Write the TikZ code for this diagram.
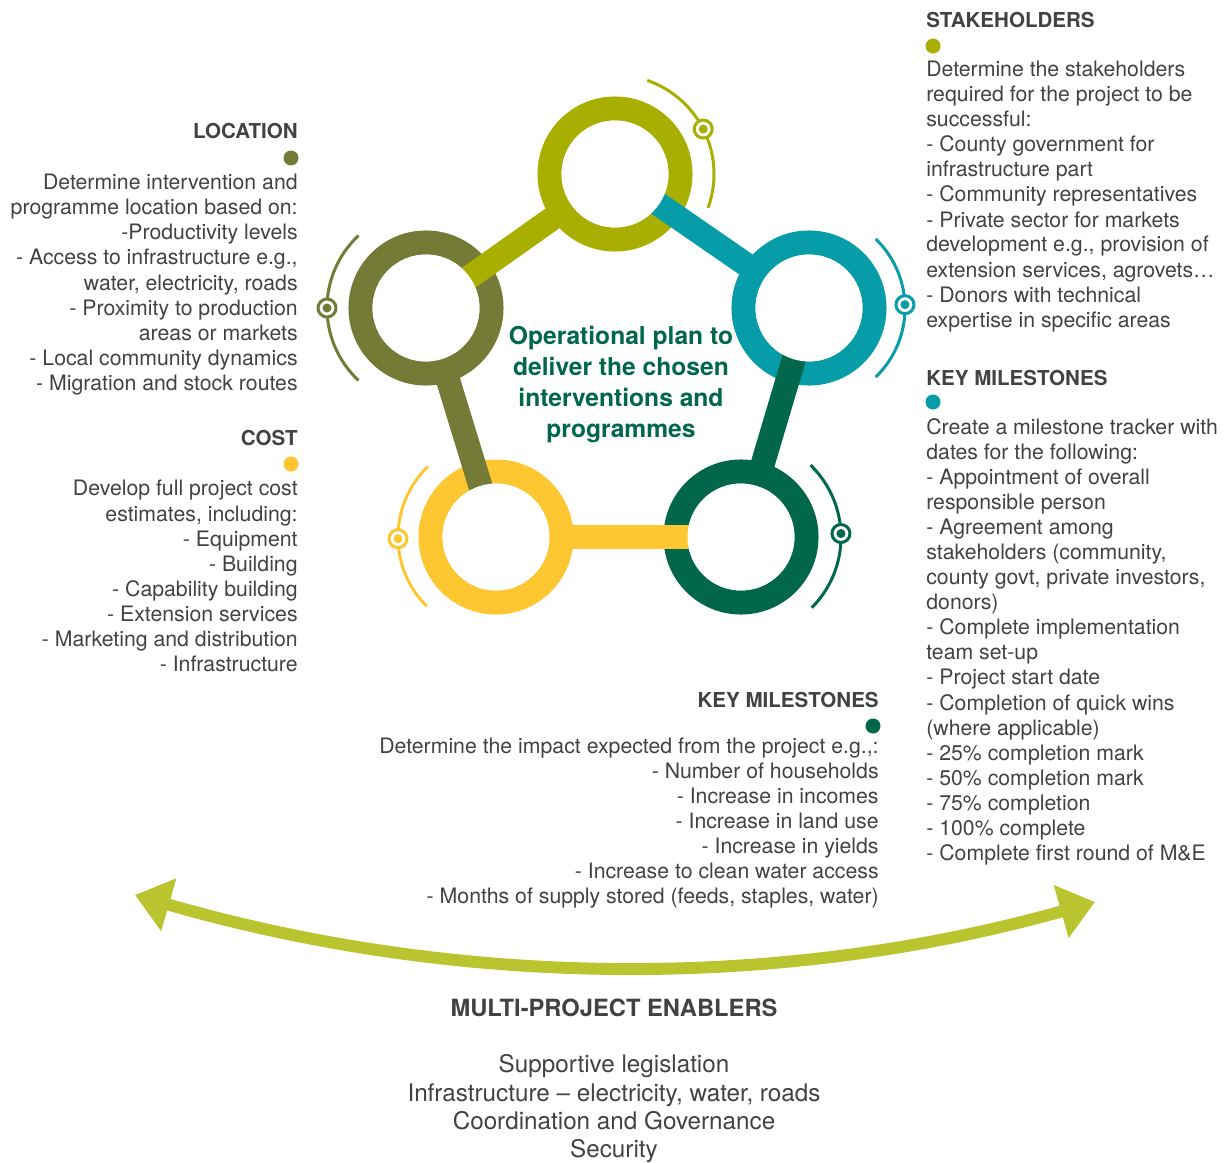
\documentclass[tikz,border=0pt]{standalone}
\usepackage{fontspec}
\setmainfont{TeX Gyre Heros}
\usetikzlibrary{positioning, arrows.meta, calc}
\definecolor{opOlive}{HTML}{A9AF00}
\definecolor{opMoss}{HTML}{737B36}
\definecolor{opTeal}{HTML}{069CA8}
\definecolor{opGold}{HTML}{FEC631}
\definecolor{opPine}{HTML}{00674A}
\definecolor{opLime}{HTML}{B9C42F}
\definecolor{opText}{HTML}{424242}

\begin{document}
\begin{tikzpicture}[x=0.02cm, y=0.02cm,
ring/.style={circle, draw=#1, line width=13.7pt, minimum size=2.62cm, inner sep=0pt},
hole/.style={circle, fill=white, minimum size=2.14cm, inner sep=0pt},
link/.style={line width=13.7pt, color=#1},
orbit/.style={line width=1.7pt, color=#1},
pin/.style={circle, draw=#1, fill=white, line width=1.7pt, minimum size=0.36cm, inner sep=0pt, path picture={\fill[#1] (path picture bounding box.center) circle (4.5);}},
dot/.style={circle, fill=#1, minimum size=0.3cm, inner sep=0pt},
head/.style={font=\bfseries\fontsize{11.7}{14}\selectfont, text=opText, inner sep=0pt},
body/.style={font=\fontsize{12.1}{14.23}\selectfont, text=opText, inner sep=0pt},
enabler/.style={line width=6.8pt, color=opLime, arrows={Triangle[length=20pt, width=30pt]-Triangle[length=20pt, width=30pt]}}]
\useasboundingbox (0,0) rectangle (1228,-1163);
% rings of the cycle
\node[ring=opOlive] (stake) at (615,-174) {};
\node[ring=opTeal] (miles) at (809,-308) {};
\node[ring=opPine] (impact) at (741,-537) {};
\node[ring=opGold] (cost) at (496,-537) {};
\node[ring=opMoss] (loc) at (426,-308) {};
\draw[link=opOlive] (stake.center)--(loc.center);
\draw[link=opTeal] (miles.center)--(stake.center);
\draw[link=opPine] (impact.center)--(miles.center);
\draw[link=opGold] (cost.center)--(impact.center);
\draw[link=opMoss] (loc.center)--(cost.center);
\node[hole] (stakeIn) at (stake) {};
\node[hole] (milesIn) at (miles) {};
\node[hole] (impactIn) at (impact) {};
\node[hole] (costIn) at (cost) {};
\node[hole] (locIn) at (loc) {};
% orbits with pins
\draw[orbit=opOlive] ($(stake.center)+(71:99)$) arc[start angle=71, end angle=-20, radius=99];
\draw[orbit=opTeal] ($(miles.center)+(46:96)$) arc[start angle=46, end angle=-46, radius=96];
\draw[orbit=opPine] ($(impact.center)+(46:100)$) arc[start angle=46, end angle=-45, radius=100];
\draw[orbit=opGold] ($(cost.center)+(134:98)$) arc[start angle=134, end angle=225, radius=98];
\draw[orbit=opMoss] ($(loc.center)+(133:99)$) arc[start angle=133, end angle=227, radius=99];
\node[pin=opOlive] (stakePin) at ($(stake.center)+(27:99)$) {};
\node[pin=opTeal] (milesPin) at ($(miles.center)+(2:96)$) {};
\node[pin=opPine] (impactPin) at ($(impact.center)+(2:100)$) {};
\node[pin=opGold] (costPin) at ($(cost.center)+(181:98)$) {};
\node[pin=opMoss] (locPin) at ($(loc.center)+(180:99)$) {};
\node[font=\bfseries\fontsize{14}{17.64}\selectfont, text=opPine, align=center, anchor=base, inner sep=0pt] (plan) at (621,-437) {Operational plan to\\deliver the chosen\\interventions and\\programmes};
% location
\node[head, anchor=base east] (locHead) at (298,-138) {LOCATION};
\node[dot=opMoss] (locDot) at (291,-158) {};
\node[body, align=right, anchor=base east] (locText) at (298,-390) {Determine intervention and\\programme location based on:\\-Productivity levels\\- Access to infrastructure e.g.,\\water, electricity, roads\\- Proximity to production\\areas or markets\\- Local community dynamics\\- Migration and stock routes};
% cost
\node[head, anchor=base east] (costHead) at (298,-445) {COST};
\node[dot=opGold] (costDot) at (291,-464) {};
\node[body, align=right, anchor=base east] (costText) at (298,-671) {Develop full project cost\\estimates, including:\\- Equipment\\- Building\\- Capability building\\- Extension services\\- Marketing and distribution\\- Infrastructure};
% stakeholders
\node[head, anchor=base west] (stakeHead) at (926,-27) {STAKEHOLDERS};
\node[dot=opOlive] (stakeDot) at (933,-46) {};
\node[body, align=left, anchor=base west] (stakeText) at (926,-327) {Determine the stakeholders\\required for the project to be\\successful:\\- County government for\\infrastructure part\\- Community representatives\\- Private sector for markets\\development e.g., provision of\\extension services, agrovets…\\- Donors with technical\\expertise in specific areas};
% milestones
\node[head, anchor=base west] (milesHead) at (926,-385) {KEY MILESTONES};
\node[dot=opTeal] (milesDot) at (933,-402) {};
\node[body, align=left, anchor=base west] (milesText) at (926,-860) {Create a milestone tracker with\\dates for the following:\\- Appointment of overall\\responsible person\\- Agreement among\\stakeholders (community,\\county govt, private investors,\\donors)\\- Complete implementation\\team set-up\\- Project start date\\- Completion of quick wins\\(where applicable)\\- 25\% completion mark\\- 50\% completion mark\\- 75\% completion\\- 100\% complete\\- Complete first round of M\&E};
% impact
\node[head, anchor=base east] (impactHead) at (879,-707) {KEY MILESTONES};
\node[dot=opPine] (impactDot) at (873,-726) {};
\node[body, align=right, anchor=base east] (impactText) at (879,-903) {Determine the impact expected from the project e.g.,:\\- Number of households\\- Increase in incomes\\- Increase in land use\\- Increase in yields\\- Increase to clean water access\\- Months of supply stored (feeds, staples, water)};
% enablers
\coordinate (arrL) at (135,-895);
\coordinate (arrR) at (1095,-902);
\draw[enabler] (arrL) .. controls (458,-988) and (778,-991) .. (arrR);
\node[font=\bfseries\fontsize{13.5}{16}\selectfont, text=opText, anchor=base, inner sep=0pt] (enabHead) at (614,-1016) {MULTI-PROJECT ENABLERS};
\node[font=\fontsize{13.8}{15.94}\selectfont, text=opText, align=center, anchor=base, inner sep=0pt] (enabText) at (614,-1157) {Supportive legislation\\Infrastructure – electricity, water, roads\\Coordination and Governance\\Security};
\end{tikzpicture}
\end{document}
